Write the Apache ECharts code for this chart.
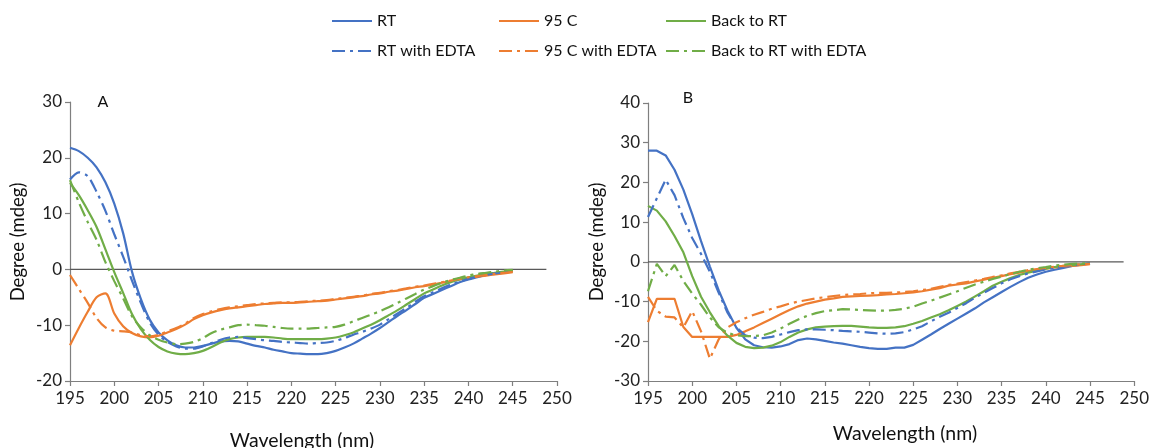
<!DOCTYPE html>
<html>
<head>
<meta charset="utf-8">
<script src="https://cdn.jsdelivr.net/npm/echarts@6/dist/echarts.min.js"></script>
<style>
html,body{margin:0;padding:0;background:#fff;}
#chart{width:1152px;height:448px;}
</style>
</head>
<body>
<div id="chart"></div>
<script>
const wavelength = [195,196,197,198,199,200,201,202,203,204,205,206,207,208,209,210,211,212,213,214,215,216,217,218,219,220,221,222,223,224,225,226,227,228,229,230,231,232,233,234,235,236,237,238,239,240,241,242,243,244,245];

// Panel A
const rtA = [21.8,21.2,20.0,18.3,15.6,11.8,6.5,-0.4,-5.3,-9.0,-11.3,-12.7,-13.6,-14.0,-14.0,-13.7,-13.3,-12.9,-12.8,-12.9,-13.3,-13.7,-14.0,-14.4,-14.7,-15.0,-15.1,-15.2,-15.2,-15.0,-14.6,-14.0,-13.3,-12.4,-11.5,-10.5,-9.4,-8.3,-7.3,-6.2,-5.1,-4.4,-3.7,-3.0,-2.3,-1.8,-1.4,-1.0,-0.7,-0.5,-0.3];
const hotA = [-13.6,-10.5,-7.6,-5.0,-4.3,-7.9,-10.2,-11.4,-12.0,-12.2,-11.9,-11.3,-10.7,-9.9,-8.9,-8.2,-7.7,-7.3,-7.0,-6.8,-6.6,-6.4,-6.2,-6.1,-6.0,-6.0,-5.9,-5.8,-5.7,-5.6,-5.4,-5.2,-5.0,-4.8,-4.5,-4.3,-4.0,-3.8,-3.5,-3.2,-3.0,-2.7,-2.4,-2.1,-1.8,-1.5,-1.3,-1.1,-0.9,-0.7,-0.5];
const backA = [15.5,13.3,10.6,7.6,3.6,-0.5,-4.2,-8.0,-10.7,-12.6,-13.9,-14.7,-15.1,-15.2,-15.0,-14.6,-13.9,-13.1,-12.5,-12.2,-12.1,-12.1,-12.1,-12.2,-12.4,-12.5,-12.5,-12.5,-12.5,-12.4,-12.2,-11.8,-11.3,-10.6,-9.9,-9.1,-8.2,-7.3,-6.3,-5.3,-4.3,-3.6,-2.9,-2.3,-1.8,-1.4,-1.1,-0.8,-0.6,-0.4,-0.2];
const rtEdtaA = [16.1,17.4,16.7,13.9,10.5,6.3,2.3,-2.0,-6.0,-9.5,-11.7,-13.0,-13.8,-14.2,-14.2,-13.8,-13.2,-12.6,-12.2,-12.1,-12.3,-12.5,-12.7,-12.8,-13.0,-13.1,-13.2,-13.3,-13.2,-13.1,-12.8,-12.3,-11.7,-11.2,-10.6,-9.9,-8.9,-7.9,-6.9,-5.8,-4.8,-4.1,-3.4,-2.7,-2.2,-1.7,-1.3,-1.0,-0.7,-0.5,-0.3];
const hotEdtaA = [-1.0,-3.5,-6.0,-8.7,-10.4,-11.0,-11.1,-11.3,-11.8,-12.0,-11.7,-11.1,-10.5,-9.7,-8.7,-8.0,-7.5,-7.1,-6.8,-6.6,-6.4,-6.2,-6.1,-6.0,-5.9,-5.9,-5.8,-5.7,-5.6,-5.5,-5.3,-5.1,-4.9,-4.7,-4.4,-4.2,-3.9,-3.7,-3.4,-3.1,-2.9,-2.6,-2.3,-2.0,-1.7,-1.4,-1.2,-1.0,-0.8,-0.6,-0.4];
const backEdtaA = [16.0,12.0,8.5,5.3,1.3,-2.1,-5.2,-8.4,-10.4,-11.8,-12.6,-13.1,-13.4,-13.3,-13.0,-12.3,-11.4,-10.8,-10.4,-10.0,-9.9,-10.0,-10.1,-10.3,-10.5,-10.6,-10.6,-10.6,-10.5,-10.4,-10.3,-9.9,-9.3,-8.7,-8.1,-7.5,-6.8,-6.0,-5.2,-4.4,-3.6,-3.0,-2.4,-1.9,-1.5,-1.1,-0.8,-0.6,-0.4,-0.2,-0.1];

// Panel B
const rtB = [28.0,28.0,26.8,23.2,18.2,12.0,5.2,-1.2,-7.2,-12.3,-16.6,-19.5,-21.0,-21.5,-21.6,-21.3,-20.7,-19.7,-19.3,-19.5,-19.9,-20.3,-20.6,-21.0,-21.4,-21.7,-21.9,-21.9,-21.6,-21.6,-20.9,-19.6,-18.3,-16.9,-15.6,-14.3,-13.0,-11.7,-10.2,-8.9,-7.6,-6.3,-5.1,-4.0,-3.2,-2.5,-2.0,-1.5,-1.0,-0.7,-0.4];
const hotB = [-15.2,-9.3,-9.3,-9.3,-16.4,-18.9,-18.9,-18.9,-18.9,-18.9,-18.4,-17.5,-16.5,-15.4,-14.3,-13.2,-12.1,-11.2,-10.5,-10.0,-9.5,-9.2,-8.8,-8.7,-8.6,-8.5,-8.4,-8.2,-8.1,-7.9,-7.7,-7.4,-7.0,-6.6,-6.0,-5.7,-5.4,-4.9,-4.5,-4.0,-3.6,-3.1,-2.7,-2.3,-2.0,-1.7,-1.4,-1.2,-1.0,-0.8,-0.6];
const backB = [14.1,12.9,10.2,6.5,2.4,-3.6,-8.8,-12.7,-16.2,-18.6,-20.4,-21.4,-21.7,-21.6,-21.1,-20.2,-18.9,-17.8,-17.0,-16.5,-16.3,-16.2,-16.1,-16.1,-16.3,-16.5,-16.6,-16.6,-16.5,-16.2,-15.6,-14.9,-14.0,-13.2,-12.2,-11.1,-10.0,-8.7,-7.4,-6.0,-5.0,-4.1,-3.3,-2.7,-2.2,-1.7,-1.3,-1.0,-0.8,-0.6,-0.4];
const rtEdtaB = [11.3,16.0,20.7,16.8,11.0,6.0,2.0,-2.5,-7.8,-12.8,-16.5,-18.5,-19.1,-19.2,-18.9,-18.3,-17.7,-17.2,-17.0,-17.0,-17.1,-17.2,-17.4,-17.5,-17.6,-17.8,-18.0,-18.1,-18.0,-17.7,-17.0,-16.2,-15.0,-13.8,-12.8,-11.6,-10.4,-9.0,-7.8,-6.6,-5.4,-4.4,-3.6,-2.9,-2.4,-1.9,-1.5,-1.2,-0.9,-0.6,-0.4];
const hotEdtaB = [-8.8,-12.3,-13.8,-14.0,-16.5,-12.4,-17.5,-24.4,-19.5,-16.5,-15.2,-14.2,-13.3,-12.6,-11.8,-11.2,-10.5,-10.0,-9.6,-9.2,-8.9,-8.6,-8.4,-8.2,-8.1,-7.9,-7.8,-7.8,-7.7,-7.6,-7.4,-7.1,-6.8,-6.3,-5.8,-5.5,-5.1,-4.7,-4.3,-3.8,-3.4,-2.9,-2.5,-2.1,-1.8,-1.5,-1.2,-1.0,-0.8,-0.6,-0.5];
const backEdtaB = [-7.4,-0.5,-3.6,-0.8,-4.8,-8.0,-10.8,-14.0,-16.5,-17.9,-18.5,-18.7,-18.7,-18.5,-17.8,-16.8,-15.6,-14.5,-13.6,-12.9,-12.4,-12.2,-11.9,-12.0,-12.1,-12.2,-12.3,-12.3,-12.1,-11.8,-11.3,-10.5,-9.8,-9.0,-8.2,-7.4,-6.5,-5.7,-5.0,-4.3,-3.7,-3.1,-2.5,-2.0,-1.6,-1.3,-0.9,-0.7,-0.5,-0.4,-0.3];

const zeroLineX = [195, 248.8];
const seriesNames = ['RT','95 C','Back to RT','RT with EDTA','95 C with EDTA','Back to RT with EDTA'];

const BLUE = '#4472C4', ORANGE = '#ED7D31', GREEN = '#70AD47';
const DASHDOT = [13, 5, 3, 5];
const FONT = 'Lato';

function pairs(vals){ return wavelength.map((w,i)=>[w, vals[i]]); }

function mk(name, vals, color, dashed, idx, smooth){
  return {
    name: name, type: 'line', xAxisIndex: idx, yAxisIndex: idx,
    data: pairs(vals), showSymbol: false, symbol: 'none', smooth: smooth,
    lineStyle: {color: color, width: 2.2, type: dashed ? DASHDOT : 'solid'},
    itemStyle: {color: color}, emphasis: {disabled: true}, z: 3
  };
}
function zero(idx){
  return {type:'line', xAxisIndex: idx, yAxisIndex: idx, data: zeroLineX.map(x=>[x,0]),
    showSymbol:false, symbol:'none', lineStyle:{color:'#595959', width:1.2}, silent:true, z:2};
}

function axis(extra, margin){
  return Object.assign({
    type: 'value',
    axisLine: {show: true, onZero: false, lineStyle: {color: '#7f7f7f', width: 1.2}},
    axisTick: {show: true, length: 5, lineStyle: {color: '#7f7f7f', width: 1.2}},
    splitLine: {show: false},
    axisLabel: {color: '#222', fontFamily: FONT, fontSize: 17, margin: margin}
  }, extra);
}

function legend(left, names){
  return {
    left: left, top: 13, padding: 0, orient: 'vertical', itemWidth: 40, itemHeight: 14, itemGap: 14,
    textStyle: {color: '#111', fontFamily: FONT, fontSize: 16},
    itemStyle: {opacity: 0, borderWidth: 0},
    selectedMode: false, data: names
  };
}

const option = {
  animation: false,
  backgroundColor: '#fff',
  grid: [
    {left: 70, top: 102, width: 487, height: 279},
    {left: 648, top: 103, width: 490, height: 278}
  ],
  xAxis: [
    axis({gridIndex:0, min:195, max:250, interval:5}, 9),
    axis({gridIndex:1, min:195, max:250, interval:5}, 9)
  ],
  yAxis: [
    axis({gridIndex:0, min:-20, max:30, interval:10}, 8),
    axis({gridIndex:1, min:-30, max:40, interval:10}, 8)
  ],
  legend: [
    legend(331, [seriesNames[0], seriesNames[3]]),
    legend(498, [seriesNames[1], seriesNames[4]]),
    legend(665, [seriesNames[2], seriesNames[5]])
  ],
  graphic: [
    {type:'text', x:103, y:102, style:{text:'A', fontFamily:FONT, fontSize:16, fill:'#111', textAlign:'center', textVerticalAlign:'middle'}},
    {type:'text', x:688, y:98, style:{text:'B', fontFamily:FONT, fontSize:16, fill:'#111', textAlign:'center', textVerticalAlign:'middle'}},
    {type:'text', x:18, y:242, rotation: Math.PI/2, style:{text:'Degree (mdeg)', fontFamily:FONT, fontSize:18.5, fill:'#111', textAlign:'center', textVerticalAlign:'middle'}},
    {type:'text', x:597, y:242, rotation: Math.PI/2, style:{text:'Degree (mdeg)', fontFamily:FONT, fontSize:18.5, fill:'#111', textAlign:'center', textVerticalAlign:'middle'}},
    {type:'text', x:302, y:441, style:{text:'Wavelength (nm)', fontFamily:FONT, fontSize:19.5, fill:'#111', textAlign:'center', textVerticalAlign:'middle'}},
    {type:'text', x:905, y:434, style:{text:'Wavelength (nm)', fontFamily:FONT, fontSize:19.5, fill:'#111', textAlign:'center', textVerticalAlign:'middle'}}
  ],
  series: [
    zero(0), zero(1),
    mk('RT', rtA, BLUE, false, 0, 0.3),
    mk('95 C', hotA, ORANGE, false, 0, 0.3),
    mk('Back to RT', backA, GREEN, false, 0, 0.3),
    mk('RT with EDTA', rtEdtaA, BLUE, true, 0, 0.3),
    mk('95 C with EDTA', hotEdtaA, ORANGE, true, 0, 0.3),
    mk('Back to RT with EDTA', backEdtaA, GREEN, true, 0, 0.3),
    mk('RT', rtB, BLUE, false, 1, false),
    mk('95 C', hotB, ORANGE, false, 1, false),
    mk('Back to RT', backB, GREEN, false, 1, false),
    mk('RT with EDTA', rtEdtaB, BLUE, true, 1, false),
    mk('95 C with EDTA', hotEdtaB, ORANGE, true, 1, false),
    mk('Back to RT with EDTA', backEdtaB, GREEN, true, 1, false)
  ]
};

const chart = echarts.init(document.getElementById('chart'), null, {renderer: 'canvas'});
chart.setOption(option);
</script>
</body>
</html>
